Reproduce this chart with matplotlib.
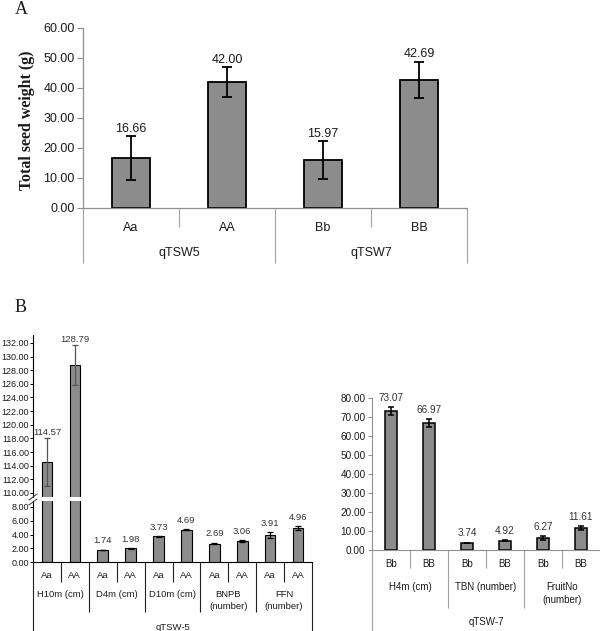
import matplotlib
matplotlib.use('Agg')
import matplotlib.pyplot as plt
from matplotlib.ticker import FormatStrFormatter
from matplotlib.transforms import blended_transform_factory
from matplotlib.lines import Line2D

plt.rcParams['font.family'] = ['Liberation Sans', 'DejaVu Sans']

# ---------------- data ----------------
# Panel A
a_categories = ['Aa', 'AA', 'Bb', 'BB']
a_groups = ['qTSW5', 'qTSW7']
a_values = [16.66, 42.00, 15.97, 42.69]
a_errors = [7.3, 5.1, 6.4, 6.1]
a_yticks = [0, 10, 20, 30, 40, 50, 60]

# Panel B, qTSW-5
b5_categories = ['Aa', 'AA'] * 5
b5_groups = ['H10m (cm)', 'D4m (cm)', 'D10m (cm)', 'BNPB\n(number)', 'FFN\n(number)']
b5_locus = 'qTSW-5'
b5_values = [114.57, 128.79, 1.74, 1.98, 3.73, 4.69, 2.69, 3.06, 3.91, 4.96]
b5_errors = [3.5, 2.9, 0.05, 0.05, 0.08, 0.05, 0.12, 0.1, 0.43, 0.3]
b5_low_ticks = [0, 2, 4, 6, 8]
b5_high_ticks = [110, 112, 114, 116, 118, 120, 122, 124, 126, 128, 130, 132]

# Panel B, qTSW-7
b7_categories = ['Bb', 'BB'] * 3
b7_groups = ['H4m (cm)', 'TBN (number)', 'FruitNo\n(number)']
b7_locus = 'qTSW-7'
b7_values = [73.07, 66.97, 3.74, 4.92, 6.27, 11.61]
b7_errors = [2.0, 2.0, 0.2, 0.4, 1.2, 1.0]
b7_yticks = [0, 10, 20, 30, 40, 50, 60, 70, 80]

# ---------------- figure ----------------
W, H = 600, 631
fig = plt.figure(figsize=(W / 100, H / 100), dpi=100)
BAR = '#8c8c8c'
TXT = '#1a1a1a'
SERIF = ['Liberation Serif', 'DejaVu Serif']


def px_axes(l, t, r, b):
    return fig.add_axes([l / W, 1 - b / H, (r - l) / W, (b - t) / H])


def vline(ax, x, length_px, ax_h, color, lw):
    tr = blended_transform_factory(ax.transData, ax.transAxes)
    ax.plot([x, x], [0, -length_px / ax_h], transform=tr, color=color,
            lw=lw, clip_on=False, solid_capstyle='butt')


def label(ax, x, off_px, ax_h, s, fs, va='center', ls=1.2):
    tr = blended_transform_factory(ax.transData, ax.transAxes)
    ax.text(x, -off_px / ax_h, s, transform=tr, ha='center', va=va,
            fontsize=fs, color=TXT, linespacing=ls, clip_on=False)


# ================= Panel A =================
axA_h = 208 - 28
axA = px_axes(83, 28, 467, 208)
xa = list(range(len(a_values)))
axA.bar(xa, a_values, width=0.4, color=BAR, edgecolor='black', linewidth=1.3, zorder=2)
axA.errorbar(xa, a_values, yerr=a_errors, fmt='none', ecolor='black',
             elinewidth=1.3, capsize=3.5, capthick=1.3, zorder=3)
for x, v, e in zip(xa, a_values, a_errors):
    axA.annotate(f'{v:.2f}', xy=(x, v + e), xytext=(0, 3), textcoords='offset points',
                 ha='center', va='baseline', fontsize=9, color=TXT)
axA.set_xlim(-0.5, len(a_values) - 0.5)
axA.set_ylim(0, 60)
axA.set_yticks(a_yticks)
axA.yaxis.set_major_formatter(FormatStrFormatter('%.2f'))
axA.set_xticks([])
axA.tick_params(axis='y', direction='out', length=4, color='#909090', labelsize=9,
                labelcolor=TXT, width=0.8, pad=2)
for s in ['top', 'right']:
    axA.spines[s].set_visible(False)
for s in ['left', 'bottom']:
    axA.spines[s].set_color('#909090')
    axA.spines[s].set_linewidth(0.9)
# hierarchy
for x in [0.5, 2.5]:
    vline(axA, x, 19, axA_h, '#a0a0a0', 0.8)
for x in [-0.5, 1.5, 3.5]:
    vline(axA, x, 55, axA_h, '#a0a0a0', 0.8)
for x, c in zip(xa, a_categories):
    label(axA, x, 20, axA_h, c, 9)
for i, g in enumerate(a_groups):
    label(axA, 2 * i + 0.5, 45, axA_h, g, 9)
fig.text(27 / W, 1 - 120 / H, 'Total seed weight (g)', rotation=90, ha='center',
         va='center', fontsize=11.4, fontweight='bold', family=SERIF, color=TXT)
fig.text(21 / W, 1 - 10 / H, 'A', ha='center', va='center', fontsize=13,
         family=SERIF, color=TXT)
fig.text(21 / W, 1 - 308 / H, 'B', ha='center', va='center', fontsize=13,
         family=SERIF, color=TXT)

# ================= Panel B left (broken axis) =================
low_h = 562 - 501
axL = px_axes(33, 501, 312, 562)
axU = px_axes(33, 335, 312, 497)
xb = list(range(len(b5_values)))
for ax in (axL, axU):
    ax.bar(xb, b5_values, width=0.38, color=BAR, edgecolor='black', linewidth=0.8, zorder=2)
    ax.set_xlim(-0.5, len(b5_values) - 0.5)
    ax.set_xticks([])
    for s in ['top', 'right']:
        ax.spines[s].set_visible(False)
    ax.spines['left'].set_color('black')
    ax.spines['left'].set_linewidth(0.8)
    ax.tick_params(axis='y', direction='out', length=2, labelsize=6.5, labelcolor=TXT,
                   width=0.7, pad=1)
    ax.yaxis.set_major_formatter(FormatStrFormatter('%.2f'))
axU.spines['bottom'].set_visible(False)
axL.spines['bottom'].set_color('black')
axL.spines['bottom'].set_linewidth(0.8)
axL.set_ylim(0, 61 / 6.875)
axU.set_ylim(109.41, 109.41 + 162 / 6.82)
axL.set_yticks(b5_low_ticks)
axU.set_yticks(b5_high_ticks)
for x, v, e in zip(xb, b5_values, b5_errors):
    ax = axU if v > 50 else axL
    ec = '#555555' if v > 50 else 'black'
    ax.errorbar([x], [v], yerr=[e], fmt='none', ecolor=ec, elinewidth=0.9,
                capsize=2, capthick=0.9, zorder=3)
    ax.annotate(f'{v:.2f}', xy=(x, v + e), xytext=(0, 4.5 if v < 50 else 2),
                textcoords='offset points', ha='center', va='baseline',
                fontsize=6.8, color='#333333')
# break marks
for dy in (0, 5):
    fig.add_artist(Line2D([29 / W, 37 / W], [1 - (500 + dy) / H, 1 - (494 + dy) / H],
                          transform=fig.transFigure, color='#333333', lw=0.7))
# hierarchy
for x in [0.5, 2.5, 4.5, 6.5, 8.5]:
    vline(axL, x, 20, low_h, '#202020', 0.8)
for x in [1.5, 3.5, 5.5, 7.5]:
    vline(axL, x, 50, low_h, '#202020', 0.8)
for x in [-0.5, 9.5]:
    vline(axL, x, 75, low_h, '#202020', 0.8)
for x, c in zip(xb, b5_categories):
    label(axL, x, 13, low_h, c, 6.8)
for i, g in enumerate(b5_groups):
    label(axL, 2 * i + 0.5, 33 - 4.9, low_h, g, 6.8, va='top', ls=1.4)
label(axL, 4.5, 65, low_h, b5_locus, 6.8)

# ================= Panel B right =================
r_h = 550 - 398
axR = px_axes(372, 398, 600, 550)
xr = list(range(len(b7_values)))
axR.bar(xr, b7_values, width=0.34, color=BAR, edgecolor='black', linewidth=1.1, zorder=2)
axR.errorbar(xr, b7_values, yerr=b7_errors, fmt='none', ecolor='black',
             elinewidth=1.1, capsize=2.5, capthick=1.1, zorder=3)
for x, v, e in zip(xr, b7_values, b7_errors):
    axR.annotate(f'{v:.2f}', xy=(x, v + e), xytext=(0, 4.5), textcoords='offset points',
                 ha='center', va='baseline', fontsize=7.2, color='#333333')
axR.set_xlim(-0.5, len(b7_values) - 0.5)
axR.set_ylim(0, 80)
axR.set_yticks(b7_yticks)
axR.yaxis.set_major_formatter(FormatStrFormatter('%.2f'))
axR.set_xticks([])
axR.tick_params(axis='y', direction='out', length=3, color='#909090', labelsize=7.2,
                labelcolor=TXT, width=0.7, pad=1.5)
for s in ['top', 'right']:
    axR.spines[s].set_visible(False)
for s in ['left', 'bottom']:
    axR.spines[s].set_color('#909090')
    axR.spines[s].set_linewidth(0.8)
for x in [0.5, 2.5, 4.5]:
    vline(axR, x, 18, r_h, '#a0a0a0', 0.8)
for x in [1.5, 3.5]:
    vline(axR, x, 58, r_h, '#a0a0a0', 0.8)
vline(axR, -0.5, 85, r_h, '#a0a0a0', 0.8)
for x, c in zip(xr, b7_categories):
    label(axR, x, 14, r_h, c, 7)
for i, g in enumerate(b7_groups):
    label(axR, 2 * i + 0.5, 37 - 5.3, r_h, g, 7, va='top', ls=1.4)
label(axR, 2.5, 72, r_h, b7_locus, 7)

fig.savefig('out.png', dpi=100, facecolor='white')
